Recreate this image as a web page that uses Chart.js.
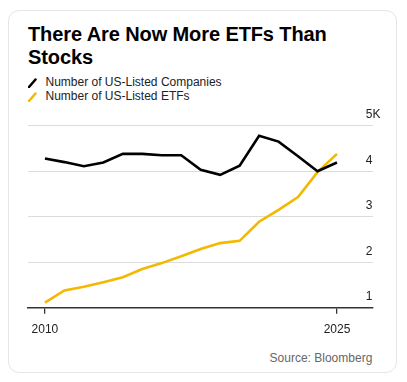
<!DOCTYPE html>
<html>
<head>
<meta charset="utf-8">
<script src="https://cdn.jsdelivr.net/npm/chart.js@4"></script>
<style>
  html, body { margin:0; padding:0; background:#fff; }
  body { width:407px; height:382px; position:relative; overflow:hidden; font-family:"Liberation Sans", Arial, sans-serif; }
  .card { position:absolute; left:8px; top:10px; width:389px; height:363px; border:1px solid #e2e7eb; border-radius:11px; box-sizing:border-box; }
  .title { position:absolute; left:28px; top:22.5px; font-size:20px; line-height:23.5px; font-weight:bold; color:#000; letter-spacing:-0.1px; white-space:nowrap; }
  .legend { position:absolute; left:28px; top:74.6px; font-size:12px; line-height:14.5px; color:#222; }
  .legend div { position:relative; padding-left:17.5px; white-space:nowrap; }
  .legend svg { position:absolute; left:0; top:3px; }
  .source { position:absolute; right:34.7px; top:350.7px; font-size:12px; line-height:14px; color:#666; }
  #wrap { position:absolute; left:0; top:105px; width:407px; height:245px; }
</style>
</head>
<body>
<div class="card"></div>
<div class="title">There Are Now More ETFs Than<br>Stocks</div>
<div class="legend">
  <div><svg width="10" height="10"><line x1="1" y1="9" x2="7.5" y2="1.5" stroke="#000" stroke-width="2.5" stroke-linecap="round"/></svg><span id="l0"></span></div>
  <div><svg width="10" height="10"><line x1="1" y1="9" x2="7.5" y2="1.5" stroke="#F4B800" stroke-width="2.5" stroke-linecap="round"/></svg><span id="l1"></span></div>
</div>
<div class="source">Source: Bloomberg</div>
<div id="wrap"><canvas id="c"></canvas></div>
<script>
const years = [2010,2011,2012,2013,2014,2015,2016,2017,2018,2019,2020,2021,2022,2023,2024,2025];
const companies = [4280,4200,4110,4190,4380,4380,4350,4350,4030,3920,4120,4780,4650,4330,4000,4190];
const etfs = [1110,1380,1460,1560,1670,1850,1980,2130,2290,2420,2470,2890,3150,3430,3980,4380];
const seriesNames = ["Number of US-Listed Companies","Number of US-Listed ETFs"];
const xTicks = [2010, 2025];
const yTicks = [1000,2000,3000,4000,5000];
const yTickLabels = ["1","2","3","4","5K"];

document.getElementById('l0').textContent = seriesNames[0];
document.getElementById('l1').textContent = seriesNames[1];

new Chart(document.getElementById('c'), {
  type: 'line',
  data: {
    datasets: [
      { label: seriesNames[0], data: years.map((y,i)=>({x:y, y:companies[i]})), borderColor:'#000', borderWidth:2.6, pointRadius:0, tension:0, order:0 },
      { label: seriesNames[1], data: years.map((y,i)=>({x:y, y:etfs[i]})), borderColor:'#F4B800', borderWidth:2.6, pointRadius:0, tension:0, order:1 }
    ]
  },
  options: {
    responsive: true,
    maintainAspectRatio: false,
    animation: false,
    layout: { padding: { left: 28, right: 0, top: 20.7, bottom: 0 } },
    plugins: { legend: { display:false }, tooltip: { enabled:false } },
    scales: {
      x: {
        type: 'linear',
        min: 2009.13, max: 2026.85,
        afterBuildTicks: s => { s.ticks = xTicks.map(v => ({value:v})); },
        afterFit: s => { s.height = 42.3; },
        ticks: { color:'#222', font:{ family:'"Liberation Sans", Arial, sans-serif', size:12 }, padding: 9, maxRotation:0, callback: v => String(v) },
        grid: { drawOnChartArea:false, drawTicks:true, tickLength:6, color:'#333', lineWidth:1.3 },
        border: { display:true, color:'#333', width:1.5 }
      },
      y: {
        position: 'right',
        min: 1000, max: 5000,
        afterBuildTicks: s => { s.ticks = yTicks.map(v => ({value:v})); },
        afterFit: s => { s.width = 34; },
        ticks: { color:'#222', font:{ family:'"Liberation Sans", Arial, sans-serif', size:12 }, mirror:true, padding: 7.5, crossAlign:'far', labelOffset: -11,
                 callback: (v) => yTickLabels[yTicks.indexOf(v)] },
        grid: { drawTicks:false, color:'#dcdcdc', lineWidth:1 },
        border: { display:false }
      }
    }
  }
});
</script>
</body>
</html>
